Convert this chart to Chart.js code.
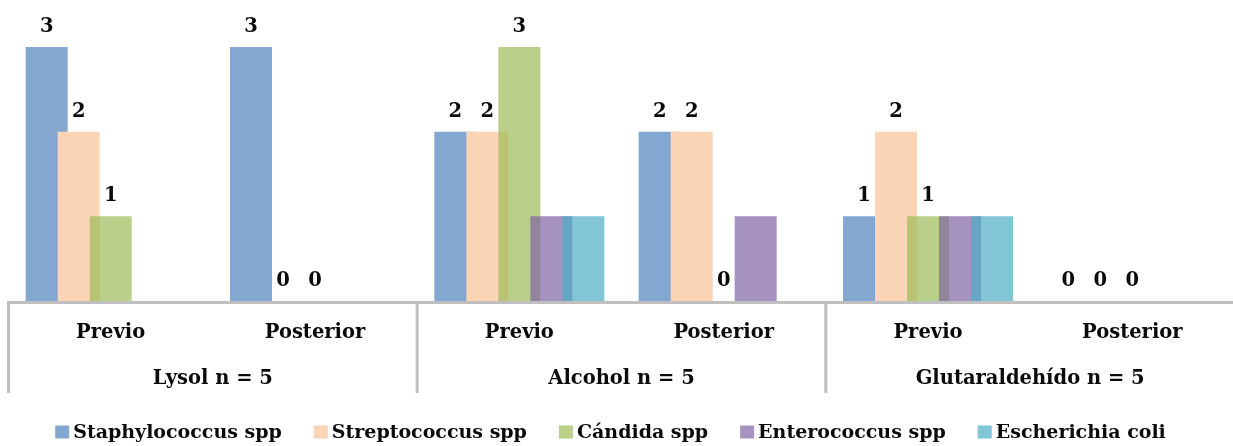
<!DOCTYPE html>
<html>
<head>
<meta charset="utf-8">
<script src="https://cdn.jsdelivr.net/npm/chart.js@4"></script>
<style>
  html, body { margin: 0; padding: 0; overflow: hidden; background: #ffffff; }
  canvas { display: block; }
</style>
</head>
<body>
<canvas id="chart" width="1236" height="446"></canvas>
<script>
// Categories (inner level) and disinfectant groups (outer level)
const categories = ['Previo', 'Posterior', 'Previo', 'Posterior', 'Previo', 'Posterior'];
const groups = ['Lysol n = 5', 'Alcohol n = 5', 'Glutaraldehído n = 5'];

// Series names and counts per category
const seriesNames = ['Staphylococcus spp', 'Streptococcus spp', 'Cándida spp', 'Enterococcus spp', 'Escherichia coli'];
const staphylococcus = [3, 3, 2, 2, 1, 0];
const streptococcus  = [2, 0, 2, 2, 2, 0];
const candida        = [1, 0, 3, 0, 1, 0];
const enterococcus   = [0, 0, 1, 1, 1, 0];
const escherichia    = [0, 0, 1, 0, 1, 0];
const seriesValues = [staphylococcus, streptococcus, candida, enterococcus, escherichia];

// Fill colours (semi-transparent so overlapping bars blend)
const seriesColors = [
  'rgba(79, 129, 189, 0.7)',
  'rgb(251, 213, 181)',
  'rgba(155, 187, 89, 0.7)',
  'rgba(128, 100, 162, 0.7)',
  'rgba(75, 172, 198, 0.7)'
];
// Series whose values are written above the bars
const labelledSeries = [true, true, true, false, false];

const FONT = 'bold 19.5px "DejaVu Serif"';
const LEGEND_FONT = 'bold 19px "DejaVu Serif"';
const TEXT_COLOR = '#0a0a0a';
const LINE_COLOR = '#bfbfbf';

// Draw series first-to-last so each later series overlaps the previous one,
// then write the values above the labelled series.
const overlapOrder = {
  id: 'overlapOrder',
  beforeDatasetsDraw(chart) {
    const ctx = chart.ctx;
    chart.data.datasets.forEach((ds, i) => {
      chart.getDatasetMeta(i).controller.draw();
    });
    ctx.save();
    ctx.font = FONT;
    ctx.fillStyle = TEXT_COLOR;
    ctx.textAlign = 'center';
    ctx.textBaseline = 'alphabetic';
    chart.data.datasets.forEach((ds, i) => {
      if (!labelledSeries[i]) return;
      chart.getDatasetMeta(i).data.forEach((bar, j) => {
        ctx.fillText(String(ds.data[j]), bar.x, bar.y - 15);
      });
    });
    ctx.restore();
    return false;
  }
};

const categoryFrame = {
  id: 'categoryFrame',
  afterDraw(chart) {
    const { ctx, chartArea } = chart;
    const x = chart.scales.x;
    const step = x.getPixelForValue(1) - x.getPixelForValue(0);
    const left = x.getPixelForValue(0) - step / 2;
    const bottom = chartArea.bottom;
    ctx.save();
    ctx.strokeStyle = LINE_COLOR;
    ctx.lineWidth = 3;
    ctx.beginPath();
    ctx.moveTo(left - 1.5, bottom + 1.5);
    ctx.lineTo(chart.width, bottom + 1.5);
    const perGroup = categories.length / groups.length;
    for (let g = 0; g <= groups.length; g++) {
      const gx = left + g * perGroup * step;
      ctx.moveTo(gx, bottom + 1.5);
      ctx.lineTo(gx, bottom + 92);
    }
    ctx.stroke();

    ctx.font = FONT;
    ctx.fillStyle = TEXT_COLOR;
    ctx.textAlign = 'center';
    ctx.textBaseline = 'middle';
    categories.forEach((c, i) => {
      ctx.fillText(c, x.getPixelForValue(i), bottom + 32);
    });
    groups.forEach((g, i) => {
      ctx.fillText(g, left + (i + 0.5) * perGroup * step, bottom + 78);
    });

    // Legend row
    ctx.font = LEGEND_FONT;
    const box = 14, boxH = 13, gapText = 4, gapItem = 32;
    const widths = seriesNames.map(n => ctx.measureText(n).width);
    const total = widths.reduce((a, w) => a + box + gapText + w, 0) + gapItem * (seriesNames.length - 1);
    let lx = (1221 - total) / 2;
    const ly = bottom + 131;
    ctx.textAlign = 'left';
    seriesNames.forEach((n, i) => {
      ctx.fillStyle = seriesColors[i];
      ctx.fillRect(lx, ly - boxH / 2, box, boxH);
      ctx.fillStyle = TEXT_COLOR;
      ctx.fillText(n, lx + box + gapText, ly + 1);
      lx += box + gapText + widths[i] + gapItem;
    });
    ctx.restore();
  }
};

new Chart(document.getElementById('chart'), {
  type: 'bar',
  data: {
    labels: categories,
    datasets: seriesNames.map((name, i) => ({
      label: name,
      data: seriesValues[i],
      backgroundColor: seriesColors[i],
      borderWidth: 0,
      categoryPercentage: 0.783,
      barPercentage: 1.3125
    }))
  },
  options: {
    responsive: false,
    animation: false,
    layout: { padding: { top: 47, bottom: 145, left: 8.5, right: 1.5 } },
    scales: {
      x: { type: 'category', display: false, offset: true },
      y: { display: false, min: 0, max: 3 }
    },
    plugins: {
      legend: { display: false },
      tooltip: { enabled: false }
    }
  },
  plugins: [overlapOrder, categoryFrame]
});
</script>
</body>
</html>
